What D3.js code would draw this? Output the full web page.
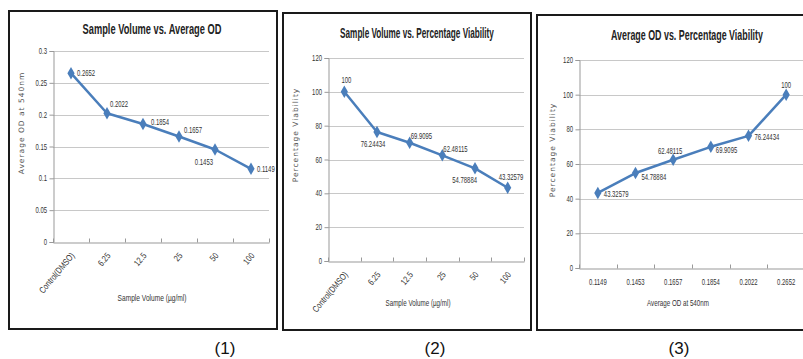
<!DOCTYPE html>
<html>
<head>
<meta charset="utf-8">
<script src="https://cdn.jsdelivr.net/npm/d3@7"></script>
<style>
  body { margin: 0; background: #fff; }
  svg { display: block; font-family: "Liberation Sans", Arial, sans-serif; }
</style>
</head>
<body>
<div id="chart"></div>
<script>
// data
const volumeLabels = ["Control(DMSO)", "6.25", "12.5", "25", "50", "100"];
const avgOD = [0.2652, 0.2022, 0.1854, 0.1657, 0.1453, 0.1149];
const viability = [100, 76.24434, 69.9095, 62.48115, 54.78884, 43.32579];
const odLabels = ["0.1149", "0.1453", "0.1657", "0.1854", "0.2022", "0.2652"];
const viabilityByOD = [43.32579, 54.78884, 62.48115, 69.9095, 76.24434, 100];
const odTicks = [0, 0.05, 0.1, 0.15, 0.2, 0.25, 0.3];
const pctTicks = [0, 20, 40, 60, 80, 100, 120];

const lineColor = "#4a7ebb";
const squeeze = 0.66; // the source used a condensed face

// layout for each panel (positions only)
const panels = [
  {
    frame: [9, 11, 277, 329], plot: { l: 53, r: 269, t: 51, b: 242 },
    title: "Sample Volume vs. Average OD", titleX: 152, titleY: 34, titleW: 139,
    yTitle: "Average OD at 540nm", yTitleX: 21, yTitleY: 123,
    xTitle: "Sample Volume (\u00b5g/ml)", xTitleX: 152, xTitleY: 301, xTitleW: 69,
    cats: volumeLabels, values: avgOD, yMax: 0.3, yTicks: odTicks, rotate: true,
    num: "(1)", numX: 225,
    lbl: [[6, 3, "start"], [3, -6, "start"], [8, 1, "start"], [5, -4, "start"], [-2, 16, "end"], [6, 3, "start"]]
  },
  {
    frame: [283, 13, 531, 330], plot: { l: 328, r: 524, t: 58, b: 261 },
    title: "Sample Volume vs. Percentage Viability", titleX: 417, titleY: 38, titleW: 154,
    yTitle: "Percentage Viability", yTitleX: 295, yTitleY: 135,
    xTitle: "Sample Volume (\u00b5g/ml)", xTitleX: 418, xTitleY: 306, xTitleW: 65,
    cats: volumeLabels, values: viability, yMax: 120, yTicks: pctTicks, rotate: true,
    num: "(2)", numX: 435,
    lbl: [[2, -9, "middle"], [-4, 15, "middle"], [1, -4, "start"], [1, -3, "start"], [2, 15, "end"], [-9, -8, "start"]]
  },
  {
    frame: [537, 15, 806, 330], plot: { l: 579, r: 805, t: 60, b: 268 },
    title: "Average OD vs. Percentage Viability", titleX: 687, titleY: 40, titleW: 152,
    yTitle: "Percentage Viability", yTitleX: 552, yTitleY: 150,
    xTitle: "Average OD at 540nm", xTitleX: 678, xTitleY: 306, xTitleW: 62,
    cats: odLabels, values: viabilityByOD, yMax: 120, yTicks: pctTicks, rotate: false,
    num: "(3)", numX: 679,
    lbl: [[6, 4, "start"], [6, 7, "start"], [-3, -6, "middle"], [5, 6, "start"], [6, 4, "start"], [0, -7, "middle"]]
  }
];

const svg = d3.select("#chart").append("svg")
  .attr("width", 803)
  .attr("height", 359);

panels.forEach(p => drawPanel(p));

// small condensed text, placed at (x, y) with optional rotation
function ntext(parent, x, y, str, anchor, rot, k) {
  return parent.append("text")
    .attr("transform", "translate(" + x + "," + y + ")" + (rot ? " rotate(" + rot + ")" : "") + " scale(" + (k || squeeze) + ",1)")
    .attr("text-anchor", anchor)
    .attr("font-size", 9)
    .attr("fill", "#333")
    .text(str);
}

// text squeezed horizontally to a given width
function fitText(parent, x, y, str, w, size, bold) {
  const t = parent.append("text")
    .attr("text-anchor", "middle")
    .attr("font-size", size)
    .attr("font-weight", bold ? "bold" : "normal")
    .attr("fill", bold ? "#222" : "#333")
    .text(str);
  const k = w / t.node().getComputedTextLength();
  t.attr("transform", "translate(" + x + "," + y + ") scale(" + k + ",1)");
  return t;
}

function drawPanel(p) {
  const g = svg.append("g");
  const [fx0, fy0, fx1, fy1] = p.frame;

  // frame
  g.append("rect")
    .attr("x", fx0).attr("y", fy0)
    .attr("width", fx1 - fx0).attr("height", fy1 - fy0)
    .attr("fill", "#fff")
    .attr("stroke", "#1a1a1a")
    .attr("stroke-width", 2);

  const x = d3.scaleBand().domain(p.cats).range([p.plot.l, p.plot.r]);
  const y = d3.scaleLinear().domain([0, p.yMax]).range([p.plot.b, p.plot.t]);
  const cx = c => x(c) + x.bandwidth() / 2;

  // gridlines
  g.append("g").selectAll("line")
    .data(p.yTicks.filter(d => d > 0))
    .enter().append("line")
    .attr("x1", p.plot.l).attr("x2", p.plot.r)
    .attr("y1", d => Math.round(y(d)) + 0.5).attr("y2", d => Math.round(y(d)) + 0.5)
    .attr("stroke", "#c8c8c8");

  // y axis
  const yAxis = g.append("g")
    .attr("transform", "translate(" + (p.plot.l + 0.5) + ",0)")
    .call(d3.axisLeft(y).tickValues(p.yTicks).tickSize(4).tickFormat(""));
  yAxis.select(".domain").attr("stroke", "#999");
  yAxis.selectAll(".tick line").attr("stroke", "#999");
  p.yTicks.forEach(t => ntext(g, p.plot.l - 6, y(t) + 3, d3.format("")(t), "end"));

  // x axis
  const xAxis = g.append("g")
    .attr("transform", "translate(0," + (Math.round(p.plot.b) + 0.5) + ")")
    .call(d3.axisBottom(x).tickSize(0).tickSizeOuter(0).tickFormat(""));
  xAxis.select(".domain").attr("stroke", "#999");
  // ticks at band boundaries
  const bounds = p.cats.map(c => x(c)).concat([p.plot.r]);
  xAxis.selectAll("line.bound")
    .data(bounds)
    .enter().append("line")
    .attr("class", "bound")
    .attr("x1", d => Math.round(d) + 0.5).attr("x2", d => Math.round(d) + 0.5)
    .attr("y1", -4).attr("y2", 0)
    .attr("stroke", "#999");

  // x tick labels
  p.cats.forEach(c => {
    if (p.rotate) ntext(g, cx(c) + 4, p.plot.b + 14, c, "end", -50, 0.8);
    else ntext(g, cx(c), p.plot.b + 17, c, "middle");
  });

  // titles
  fitText(g, p.titleX, p.titleY, p.title, p.titleW, 14, true);
  fitText(g, p.xTitleX, p.xTitleY, p.xTitle, p.xTitleW, 9, false);

  g.append("text")
    .attr("transform", "translate(" + p.yTitleX + "," + p.yTitleY + ") rotate(-90)")
    .attr("text-anchor", "middle")
    .attr("dy", "0.35em")
    .attr("font-family", "DejaVu Sans, sans-serif")
    .attr("font-size", 7.5)
    .attr("letter-spacing", 1)
    .attr("fill", "#555")
    .text(p.yTitle);

  // line and markers
  const pts = p.cats.map((c, i) => ({ c: c, v: p.values[i], i: i }));
  const line = d3.line()
    .x(d => cx(d.c))
    .y(d => y(d.v));

  g.append("path")
    .datum(pts)
    .attr("d", line)
    .attr("fill", "none")
    .attr("stroke", lineColor)
    .attr("stroke-width", 2.5)
    .attr("stroke-linejoin", "round");

  g.append("g").selectAll("path")
    .data(pts)
    .enter().append("path")
    .attr("transform", d => "translate(" + cx(d.c) + "," + y(d.v) + ")")
    .attr("d", d3.symbol().type(d3.symbolDiamond).size(45))
    .attr("fill", lineColor);

  // data labels
  pts.forEach(d => {
    const o = p.lbl[d.i];
    ntext(g, cx(d.c) + o[0], y(d.v) + o[1], d3.format("")(d.v), o[2]);
  });

  // panel number
  svg.append("text")
    .attr("x", p.numX)
    .attr("y", 354)
    .attr("text-anchor", "middle")
    .attr("font-size", 17)
    .attr("fill", "#111")
    .text(p.num);
}
</script>
</body>
</html>
